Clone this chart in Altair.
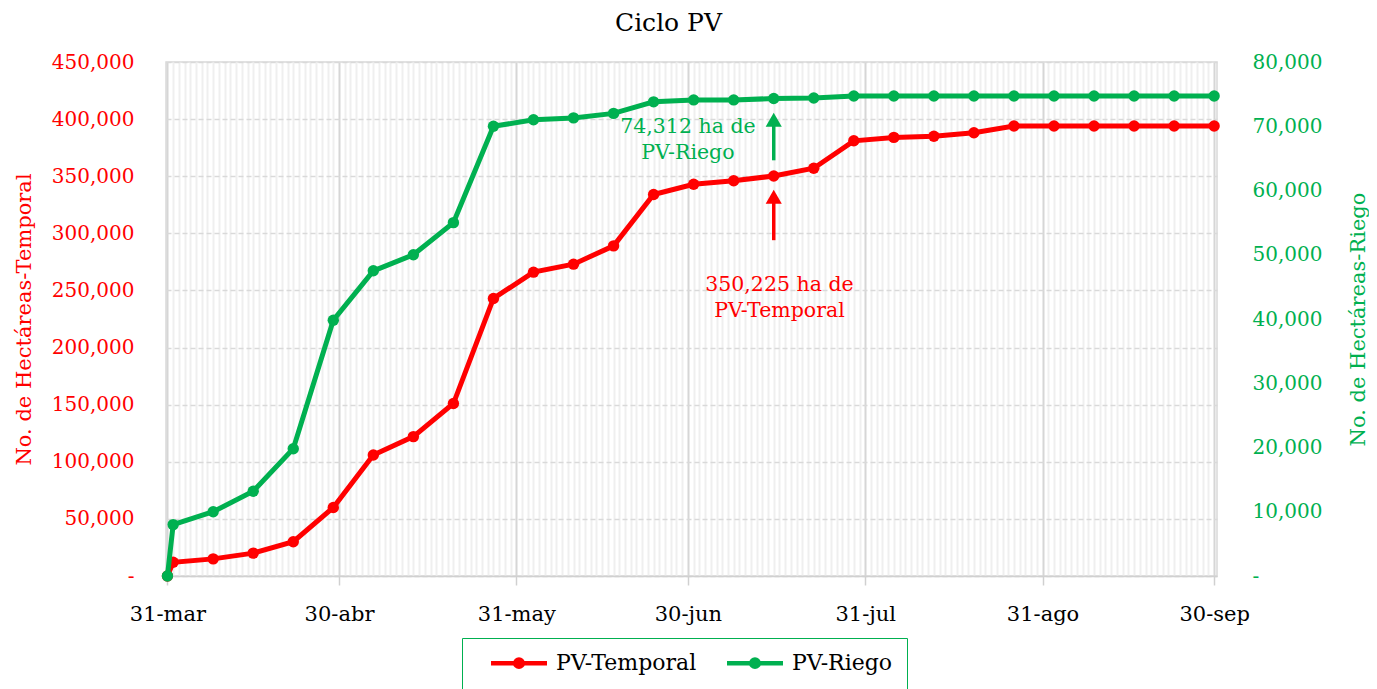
import altair as alt
import pandas as pd

# ---- data ----
fechas = ["2023-03-31", "2023-04-01", "2023-04-08", "2023-04-15", "2023-04-22", "2023-04-29",
          "2023-05-06", "2023-05-13", "2023-05-20", "2023-05-27", "2023-06-03", "2023-06-10",
          "2023-06-17", "2023-06-24", "2023-07-01", "2023-07-08", "2023-07-15", "2023-07-22",
          "2023-07-29", "2023-08-05", "2023-08-12", "2023-08-19", "2023-08-26", "2023-09-02",
          "2023-09-09", "2023-09-16", "2023-09-23", "2023-09-30"]
temporal = [0, 12000, 15000, 20000, 30000, 60000, 106000, 122000, 151000, 243000, 266000,
            273000, 289000, 334000, 343000, 346000, 350225, 357000, 381000, 384000, 385000,
            388000, 394000, 394000, 394000, 394000, 394000, 394000]
riego = [0, 8000, 10000, 13200, 19800, 39800, 47500, 50000, 55000, 70000, 71000, 71300,
         72000, 73800, 74100, 74100, 74312, 74400, 74700, 74700, 74700, 74700, 74700, 74700,
         74700, 74700, 74700, 74700]
series = ["PV-Temporal", "PV-Riego"]
colores = ["#FF0000", "#00B050"]
y_left_ticks = [0, 50000, 100000, 150000, 200000, 250000, 300000, 350000, 400000, 450000]
y_right_ticks = [0, 10000, 20000, 30000, 40000, 50000, 60000, 70000, 80000]

df = pd.DataFrame({"fecha": fechas, "temporal": temporal, "riego": riego})
ann = pd.DataFrame({"k": [0]})

RED, GREEN = colores
FONT = "DejaVu Serif"
FS_Y = 20
FS_X = 21
FS_T = 21
FS_A = 20.5

# daily gridline positions (ms, UTC)
days = pd.date_range("2023-03-31", "2023-09-30", freq="D", tz="UTC")
day_ms = [int(d.timestamp() * 1000) for d in days]
month_end = "utcdate(time(datum.value) + 86400000) == 1"
months = "['ene','feb','mar','abr','may','jun','jul','ago','sep','oct','nov','dic']"

x_scale = alt.Scale(type="utc",
                    domain=[alt.DateTime(year=2023, month=3, date=30, hours=18, utc=True),
                            alt.DateTime(year=2023, month=9, date=30, hours=12, utc=True)])
x_axis = alt.Axis(
    values=day_ms,
    labelExpr=(f"{month_end} ? utcdate(time(datum.value)) + '-' + "
               f"{months}[utcmonth(time(datum.value))] : ''"),
    title=None,
    gridColor={"condition": {"test": month_end, "value": "#d6d6d6"}, "value": "#efefef"},
    gridWidth=2,
    tickOpacity={"condition": {"test": month_end, "value": 1}, "value": 0},
    tickColor="#d0d0d0", tickSize=9, tickWidth=1.5,
    domainColor="#d0d0d0", domainWidth=1.5,
    labelPadding=18, labelFontSize=FS_X, labelColor="#000000",
    labelOverlap=False, labelFlush=False, labelBound=False,
)
X = alt.X("fecha:T", scale=x_scale, axis=x_axis)


def xd(month, date):
    return alt.XDatum(alt.DateTime(year=2023, month=month, date=date, utc=True),
                      type="temporal", scale=x_scale, axis=x_axis)


left_scale = alt.Scale(domain=[0, 450000])
right_scale = alt.Scale(domain=[0, 80000])
zero_dash = "datum.value == 0 ? '-' : format(datum.value, ',')"
color_scale = alt.Scale(domain=series, range=colores)

base_t = alt.Chart(df).transform_calculate(serie=f"'{series[0]}'")
base_r = alt.Chart(df).transform_calculate(serie=f"'{series[1]}'")
C = alt.Color("serie:N", scale=color_scale, legend=alt.Legend(title=None))

# ---- left (temporal) ----
red_line = base_t.mark_line(strokeWidth=5).encode(
    x=X,
    y=alt.Y("temporal:Q", scale=left_scale,
            axis=alt.Axis(title="No. de Hectáreas-Temporal", values=y_left_ticks,
                          labelExpr=zero_dash, labelColor=RED, titleColor=RED,
                          labelFontSize=FS_Y, titleFontSize=FS_T, titleFontWeight="normal",
                          domain=False, ticks=False, labelPadding=32, titlePadding=17,
                          gridColor="#d9d9d9", gridDash=[5, 3], gridWidth=1.5,
                          orient="left")),
    color=C,
)
red_pts = base_t.mark_circle(size=130, opacity=1).encode(
    x=X, y=alt.Y("temporal:Q", scale=left_scale), color=C,
)
red_arrow = alt.Chart(ann).mark_rule(color=RED, strokeWidth=3.5).encode(
    x=xd(7, 15), y=alt.datum(294000), y2=alt.datum(329000),
)
red_head = alt.Chart(ann).mark_point(shape="triangle-up", filled=True, color=RED,
                                     size=260, opacity=1).encode(
    x=xd(7, 15), y=alt.datum(332000),
)
red_text = alt.Chart(ann).mark_text(text="350,225 ha de\nPV-Temporal", lineBreak="\n",
                                    color=RED, fontSize=FS_A, font=FONT, lineHeight=26,
                                    baseline="middle", align="center").encode(
    x=xd(7, 16), y=alt.datum(254800),
)
left = alt.layer(red_line, red_pts, red_arrow, red_head, red_text)

# ---- right (riego) ----
green_line = base_r.mark_line(strokeWidth=5).encode(
    x=X,
    y=alt.Y("riego:Q", scale=right_scale,
            axis=alt.Axis(title="No. de Hectáreas-Riego", values=y_right_ticks,
                          labelExpr=zero_dash, labelColor=GREEN, titleColor=GREEN,
                          labelFontSize=FS_Y, titleFontSize=FS_T, titleFontWeight="normal",
                          titleAngle=270, titleBaseline="top",
                          domain=False, ticks=False, grid=False, labelPadding=35,
                          titlePadding=26, orient="right")),
    color=C,
)
green_pts = base_r.mark_circle(size=130, opacity=1).encode(
    x=X, y=alt.Y("riego:Q", scale=right_scale), color=C,
)
green_arrow = alt.Chart(ann).mark_rule(color=GREEN, strokeWidth=3.5).encode(
    x=xd(7, 15), y=alt.datum(64700), y2=alt.datum(70300),
)
green_head = alt.Chart(ann).mark_point(shape="triangle-up", filled=True, color=GREEN,
                                       size=260, opacity=1).encode(
    x=xd(7, 15), y=alt.datum(71000),
)
green_text = alt.Chart(ann).mark_text(text="74,312  ha de\nPV-Riego", lineBreak="\n",
                                      color=GREEN, fontSize=FS_A, font=FONT, lineHeight=26,
                                      baseline="middle", align="center").encode(
    x=xd(6, 30), y=alt.datum(69900),
)
right = alt.layer(green_line, green_pts, green_arrow, green_head, green_text)

LEG_SYM = ("M0.67,0H10"
           "M5.95,0A0.62,0.62,0,1,1,4.71,0A0.62,0.62,0,1,1,5.95,0Z"
           "M5.58,0A0.25,0.25,0,1,1,5.08,0A0.25,0.25,0,1,1,5.58,0Z")

chart = alt.layer(left, right).resolve_scale(y="independent").properties(
    width=1051, height=514,
    padding={"left": 5, "top": 3, "right": 0, "bottom": 5},
    title=alt.TitleParams("Ciclo PV", fontSize=25, fontWeight="normal", font=FONT,
                          color="#000000", offset=16, dx=-23, anchor="middle"),
).configure(font=FONT).configure_view(
    stroke="#d9d9d9", strokeWidth=1.5
).configure_legend(
    orient="none", legendX=296, legendY=576, direction="horizontal",
    strokeColor=GREEN, padding=14, labelFontSize=22, labelColor="#000000",
    labelFont=FONT, symbolType=LEG_SYM, symbolSize=144, symbolStrokeWidth=4.5,
    columnPadding=15, labelOffset=58,
)

chart.save("out.html", embed_options={"renderer": "svg", "actions": False})
